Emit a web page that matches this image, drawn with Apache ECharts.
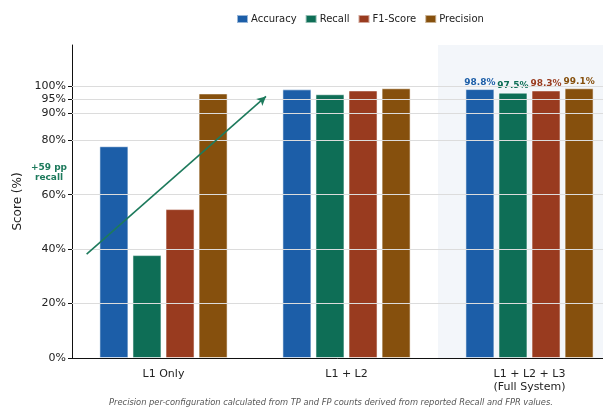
<!DOCTYPE html>
<html>
<head>
<meta charset="utf-8">
<script src="https://cdn.jsdelivr.net/npm/echarts@6/dist/echarts.min.js"></script>
<style>
  html, body { margin: 0; padding: 0; background: #fff; }
  #chart { width: 603px; height: 410px; }
</style>
</head>
<body>
<div id="chart"></div>
<script>
// Configurations compared
const categories = ['L1 Only', 'L1 + L2', 'L1 + L2 + L3\n(Full System)'];

// Scores (%) per configuration
const accuracy  = [77.8, 98.7, 98.8];
const recall    = [37.8, 96.9, 97.5];
const f1Score   = [54.7, 98.3, 98.3];
const precision = [97.2, 99.1, 99.1];

// Y-axis tick values (%)
const yTicks = [0, 20, 40, 60, 80, 90, 95, 100];

// Recall gain arrow, in (category position, %) units
const arrowFrom = [-0.42, 38.2];
const arrowTo   = [0.56, 96.1];

// Highlighted full-system span, in category positions
const highlightSpan = [1.5, 2.5];

const colors = {
  Accuracy: '#1c5ea8',
  Recall: '#0e6e56',
  'F1-Score': '#993b1f',
  Precision: '#86500d'
};

const font = 'DejaVu Sans, sans-serif';

function barSeries(name, values) {
  return {
    name: name,
    type: 'bar',
    data: values,
    barWidth: 29,
    barGap: '14%',
    itemStyle: {
      color: colors[name],
      borderColor: 'rgba(255,255,255,0.55)',
      borderWidth: 1
    },
    label: {
      show: true,
      position: 'top',
      distance: 2,
      fontFamily: font,
      fontSize: 9,
      fontWeight: 'bold',
      color: colors[name],
      formatter: p => p.dataIndex === 2 ? p.value.toFixed(1) + '%' : ''
    },
    z: 3
  };
}

const chart = echarts.init(document.getElementById('chart'), null, { renderer: 'canvas' });

chart.setOption({
  animation: false,
  color: Object.values(colors),
  legend: {
    top: 9,
    left: 231,
    itemWidth: 11,
    itemHeight: 8,
    itemGap: 8,
    icon: 'rect',
    textStyle: { fontFamily: font, fontSize: 10, color: '#222', padding: [0, 0, 0, -2] },
    data: ['Accuracy', 'Recall', 'F1-Score', 'Precision']
  },
  grid: {
    left: 72, width: 549, top: 45, bottom: 52,
    containLabel: false, outerBoundsMode: 'none'
  },
  xAxis: [
    {
      type: 'category',
      data: categories,
      axisLine: { lineStyle: { color: '#111', width: 1 } },
      axisTick: { show: false },
      axisLabel: {
        fontFamily: font, fontSize: 11, color: '#222', margin: 10, lineHeight: 13
      },
      splitLine: { show: false }
    },
    {
      type: 'value',
      min: -0.5,
      max: 2.5,
      show: false
    }
  ],
  yAxis: {
    type: 'value',
    min: 0,
    max: 115,
    name: 'Score (%)',
    nameLocation: 'middle',
    nameGap: 48,
    nameTextStyle: { fontFamily: font, fontSize: 12, color: '#222' },
    axisLine: { show: true, onZero: false, lineStyle: { color: '#111', width: 1 } },
    axisTick: { show: true, length: 4, customValues: yTicks, lineStyle: { color: '#111' } },
    axisLabel: {
      customValues: yTicks,
      formatter: v => v + '%',
      fontFamily: font, fontSize: 11, color: '#222', margin: 6
    },
    splitLine: { show: false }
  },
  series: [
    {
      type: 'line',
      xAxisIndex: 1,
      data: [],
      silent: true,
      markArea: {
        silent: true,
        itemStyle: { color: '#f3f6fa' },
        data: [[{ coord: [highlightSpan[0], 0] }, { coord: [highlightSpan[1], 115] }]]
      },
      z: 1
    },
    {
      // horizontal grid lines at each tick value
      type: 'line',
      xAxisIndex: 0,
      data: [],
      silent: true,
      markLine: {
        silent: true,
        symbol: 'none',
        label: { show: false },
        lineStyle: { color: '#dcdcdc', width: 1, type: 'solid' },
        data: yTicks.filter(v => v > 0).map(v => ({ yAxis: v }))
      },
      z: 2
    },
    {
      type: 'line',
      xAxisIndex: 1,
      data: [],
      silent: true,
      markLine: {
        silent: true,
        symbol: ['none', 'arrow'],
        symbolSize: [7, 9],
        label: { show: false },
        lineStyle: { color: '#1d7a5c', width: 1.6, type: 'solid' },
        data: [[{ coord: arrowFrom }, { coord: arrowTo }]]
      },
      z: 5
    },
    barSeries('Accuracy', accuracy),
    barSeries('Recall', recall),
    barSeries('F1-Score', f1Score),
    barSeries('Precision', precision)
  ],
  graphic: [
    {
      type: 'text',
      x: 49,
      y: 163,
      style: {
        text: '+59 pp\nrecall',
        fontFamily: font, fontSize: 9, fontWeight: 'bold',
        fill: '#1d7a5c', align: 'center', lineHeight: 10
      },
      z: 10
    },
    {
      type: 'text',
      x: 331,
      y: 399,
      style: {
        text: 'Precision per-configuration calculated from TP and FP counts derived from reported Recall and FPR values.',
        fontFamily: font, fontSize: 8.3, fontStyle: 'italic',
        fill: '#555', align: 'center'
      }
    }
  ]
});
</script>
</body>
</html>
